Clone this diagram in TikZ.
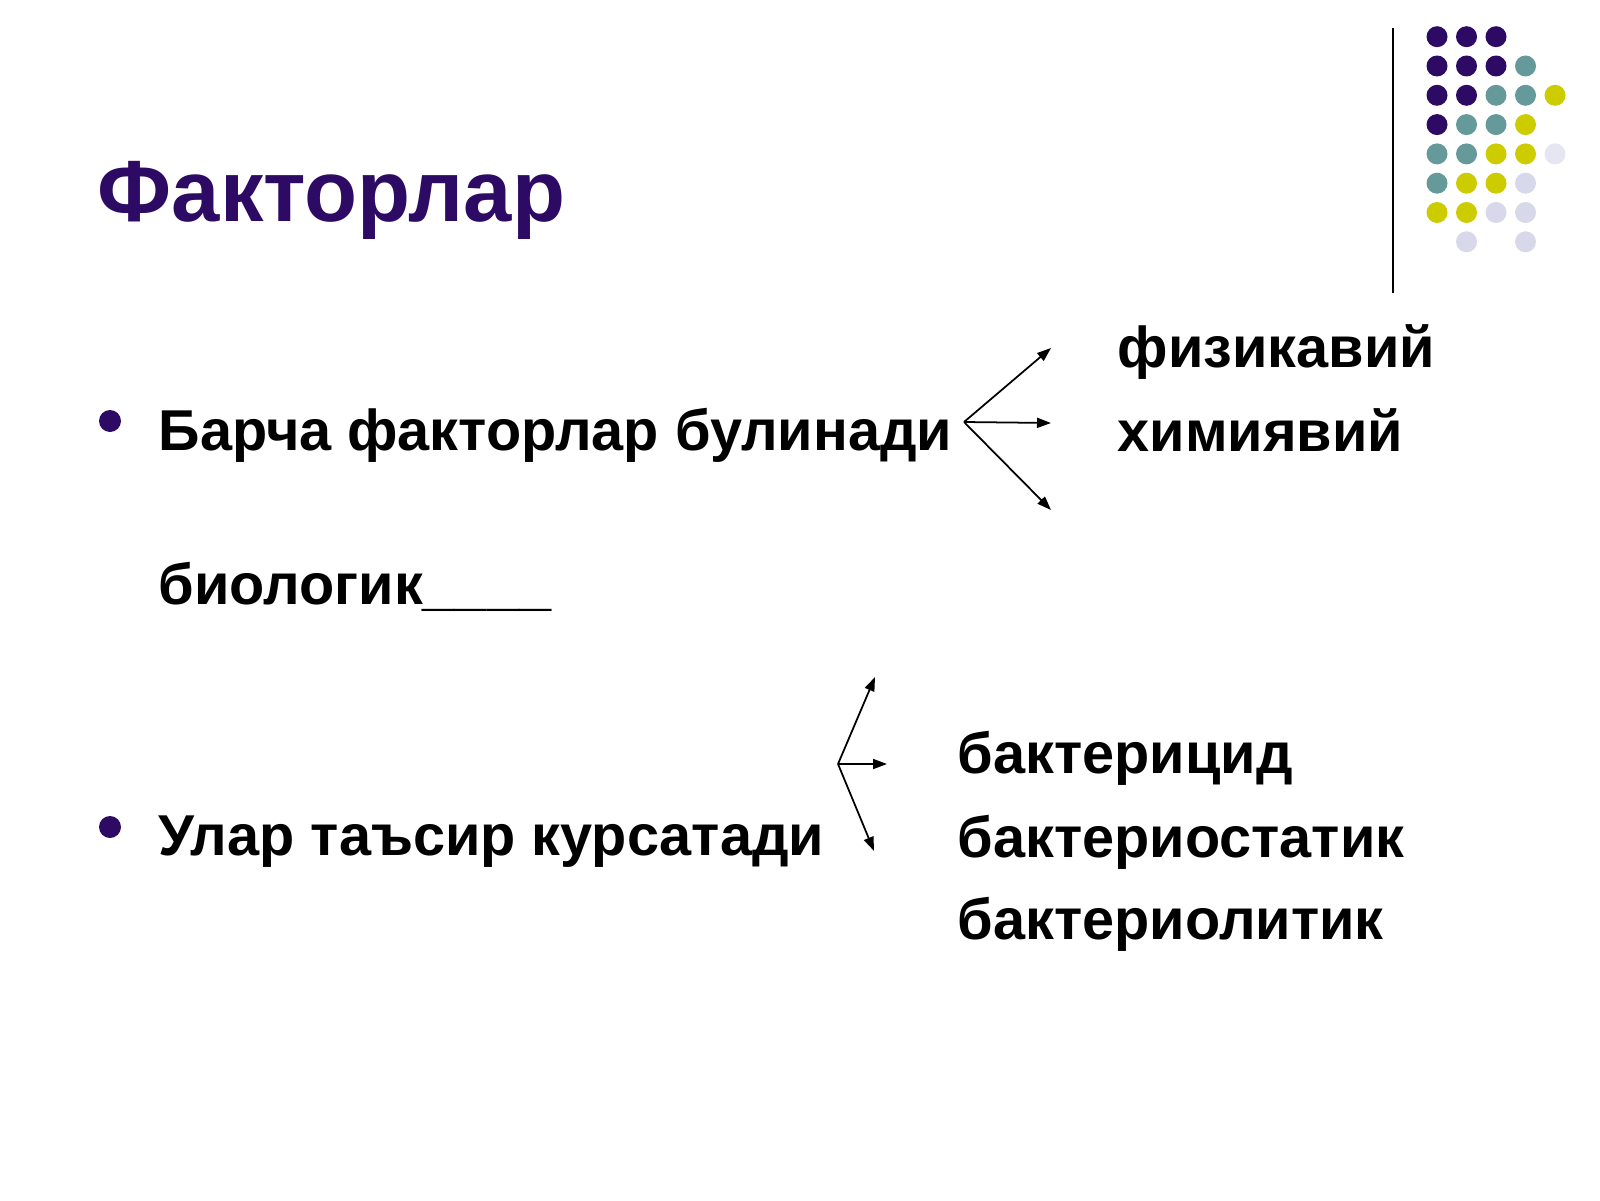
\documentclass[tikz,border=0pt]{standalone}
\usepackage{fontspec}
\setmainfont{Liberation Sans}
\usetikzlibrary{arrows.meta, positioning}
\definecolor{plum}{HTML}{2D0A64}
\definecolor{teal}{HTML}{669999}
\definecolor{lime}{HTML}{CCCC00}
\definecolor{lilac}{HTML}{D8D8EB}
\definecolor{pale}{HTML}{E6E6F2}

\begin{document}
\begin{tikzpicture}[
	title/.style = {inner sep=0pt, anchor=base west, text=plum,
		font=\fontsize{24.7}{29}\selectfont\bfseries},
	item/.style = {inner sep=0pt, anchor=base west,
		font=\fontsize{16.4}{19}\selectfont\bfseries},
	dot/.style = {circle, fill=plum, inner sep=0pt, minimum size=2.2mm},
	fork/.style = {line width=0.5pt, -{Triangle[length=1.4mm, width=1mm]}}
     ]
		\useasboundingbox[fill=white] (0,0) rectangle (16,12);
%
		\node[title] (head) at (0.97,9.78) {Факторлар};
		\draw[line width=0.7pt] (13.93,11.715) -- (13.93,9.07);
%
		\foreach \c/\r/\col in {1/1/plum,2/1/plum,3/1/plum,
			1/2/plum,2/2/plum,3/2/plum,4/2/teal,
			1/3/plum,2/3/plum,3/3/teal,4/3/teal,5/3/lime,
			1/4/plum,2/4/teal,3/4/teal,4/4/lime,
			1/5/teal,2/5/teal,3/5/lime,4/5/lime,5/5/pale,
			1/6/teal,2/6/lime,3/6/lime,4/6/lilac,
			1/7/lime,2/7/lime,3/7/lilac,4/7/lilac,
			2/8/lilac,4/8/lilac}
			\fill[\col] ({14.37+0.295*(\c-1)},{11.633-0.293*(\r-1)}) circle (0.105);
%
		\node[dot] (b1) at (1.10,7.79) {};
		\node[item] (all) at (1.58,7.50) {Барча факторлар булинади};
		\node[item] (phys) at (11.17,8.33) {физикавий};
		\node[item] (chem) at (11.17,7.49) {химиявий};
		\node[item] (bio) at (1.58,5.96) {биологик\_\_\_\_};
%
		\coordinate (f1) at (9.64,7.78);
		\coordinate (f1a) at (10.51,8.52);
		\coordinate (f1b) at (10.51,7.77);
		\coordinate (f1c) at (10.51,6.90);
		\draw[fork] (f1) -- (f1a);
		\draw[fork] (f1) -- (f1b);
		\draw[fork] (f1) -- (f1c);
%
		\node[dot] (b2) at (1.10,3.73) {};
		\node[item] (act) at (1.58,3.45) {Улар таъсир курсатади};
		\node[item] (cid) at (9.57,4.27) {бактерицид};
		\node[item] (stat) at (9.57,3.43) {бактериостатик};
		\node[item] (lyt) at (9.57,2.61) {бактериолитик};
%
		\coordinate (f2) at (8.38,4.36);
		\coordinate (f2a) at (8.75,5.23);
		\coordinate (f2b) at (8.87,4.36);
		\coordinate (f2c) at (8.74,3.49);
		\draw[fork] (f2) -- (f2a);
		\draw[fork] (f2) -- (f2b);
		\draw[fork] (f2) -- (f2c);
\end{tikzpicture}
\end{document}
